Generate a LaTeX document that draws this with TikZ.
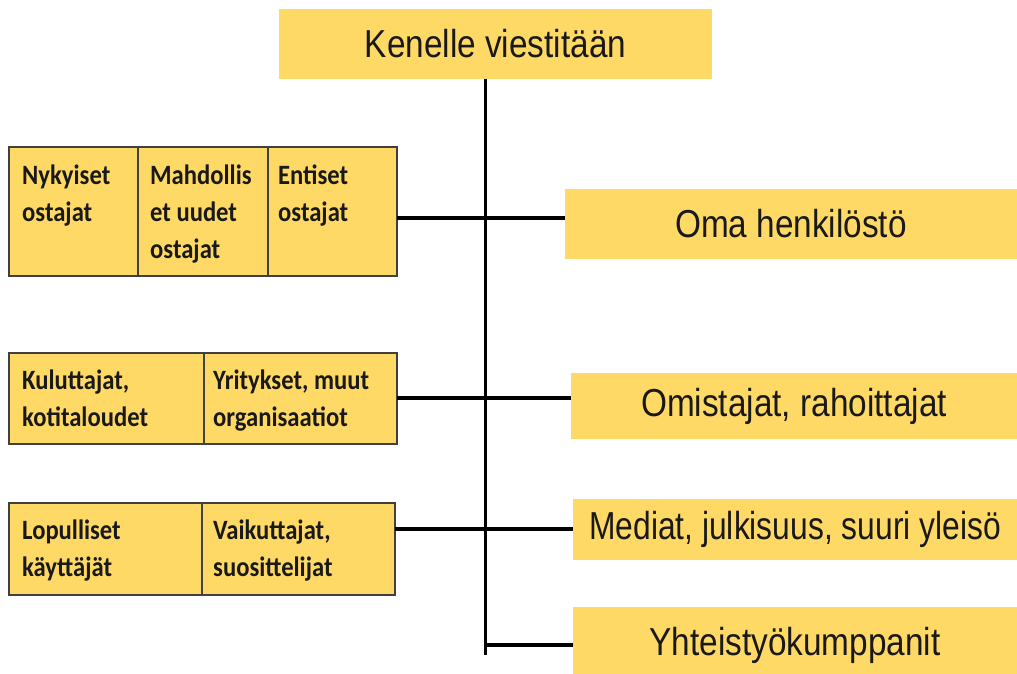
\documentclass[tikz,border=0pt]{standalone}
\usepackage{fontspec}
\setmainfont{Liberation Sans}
\newfontfamily\groupfont[FakeStretch=0.855]{Liberation Sans}
\newfontfamily\narrowfont[FakeStretch=0.815]{Liberation Sans}
\newfontfamily\cellfont[FakeStretch=0.88]{Carlito}
\usetikzlibrary{positioning}
\definecolor{boxyellow}{HTML}{FFD966}
\definecolor{cellline}{HTML}{404040}
\begin{document}
\begin{tikzpicture}[x=1pt,y=-1pt,
    group/.style={fill=boxyellow,anchor=north west,inner sep=0pt,outer sep=0pt,
      text=black!90,font=\groupfont\fontsize{39}{47}\selectfont},
    cell/.style={draw=cellline,line width=1.5pt,fill=boxyellow,anchor=north west,
      inner sep=0pt,outer sep=0pt},
    celltext/.style={inner sep=0pt,align=left,text=black!90,
      font=\cellfont\bfseries\fontsize{28}{37}\selectfont},
    link/.style={line width=4pt}]
  \useasboundingbox (0,0) rectangle (1017,673);
  % kohderyhmat oikealla
  \node[group,minimum width=433pt,minimum height=70pt] (top) at (279,9) {Kenelle viestitään};
  \node[group,minimum width=452pt,minimum height=70pt] (hlo) at (565,189) {Oma henkilöstö};
  \node[group,minimum width=446pt,minimum height=66pt] (omi) at (571,373) {Omistajat, rahoittajat};
  \node[group,minimum width=444pt,minimum height=61pt,
    font=\narrowfont\fontsize{39}{47}\selectfont] (med) at (573,499) {Mediat, julkisuus, suuri yleisö};
  \node[group,minimum width=444pt,minimum height=76pt] (yht) at (573,607) {Yhteistyökumppanit};
  % asiakkaat vasemmalla
  \node[cell,minimum width=129pt,minimum height=129pt] (nyk) at (9,147) {};
  \node[cell,minimum width=130pt,minimum height=129pt,right=0pt of nyk] (mahd) {};
  \node[cell,minimum width=129pt,minimum height=129pt,right=0pt of mahd] (ent) {};
  \node[cell,minimum width=195pt,minimum height=91pt] (kul) at (9,353) {};
  \node[cell,minimum width=193pt,minimum height=91pt,right=0pt of kul] (yri) {};
  \node[cell,minimum width=193pt,minimum height=92pt] (lop) at (9,503) {};
  \node[cell,minimum width=193pt,minimum height=92pt,right=0pt of lop] (vai) {};
  \node[celltext,below right=18pt and 13pt of nyk.north west] (nyk-t) {Nykyiset\\ostajat};
  \node[celltext,below right=18pt and 12pt of mahd.north west] (mahd-t) {Mahdollis\\et uudet\\ostajat};
  \node[celltext,below right=18pt and 10pt of ent.north west] (ent-t) {Entiset\\ostajat};
  \node[celltext,below right=17pt and 13pt of kul.north west] (kul-t) {Kuluttajat,\\kotitaloudet};
  \node[celltext,below right=17pt and 9pt of yri.north west] (yri-t) {Yritykset, muut\\organisaatiot};
  \node[celltext,below right=17pt and 13pt of lop.north west] (lop-t) {Lopulliset\\käyttäjät};
  \node[celltext,below right=17pt and 11pt of vai.north west] (vai-t) {Vaikuttajat,\\suosittelijat};
  % yhteydet
  \coordinate (trunkend) at (485,655);
  \draw[line width=3pt] (top.south -| trunkend) -- (trunkend);
  \draw[link] (ent.east |- 0,218) -- (hlo.west |- 0,218);
  \draw[link] (yri.east |- 0,398) -- (omi.west |- 0,398);
  \draw[link] (vai.east |- 0,529) -- (med.west |- 0,529);
  \draw[link] (trunkend |- 0,645) -- (yht.west |- 0,645);
\end{tikzpicture}
\end{document}
